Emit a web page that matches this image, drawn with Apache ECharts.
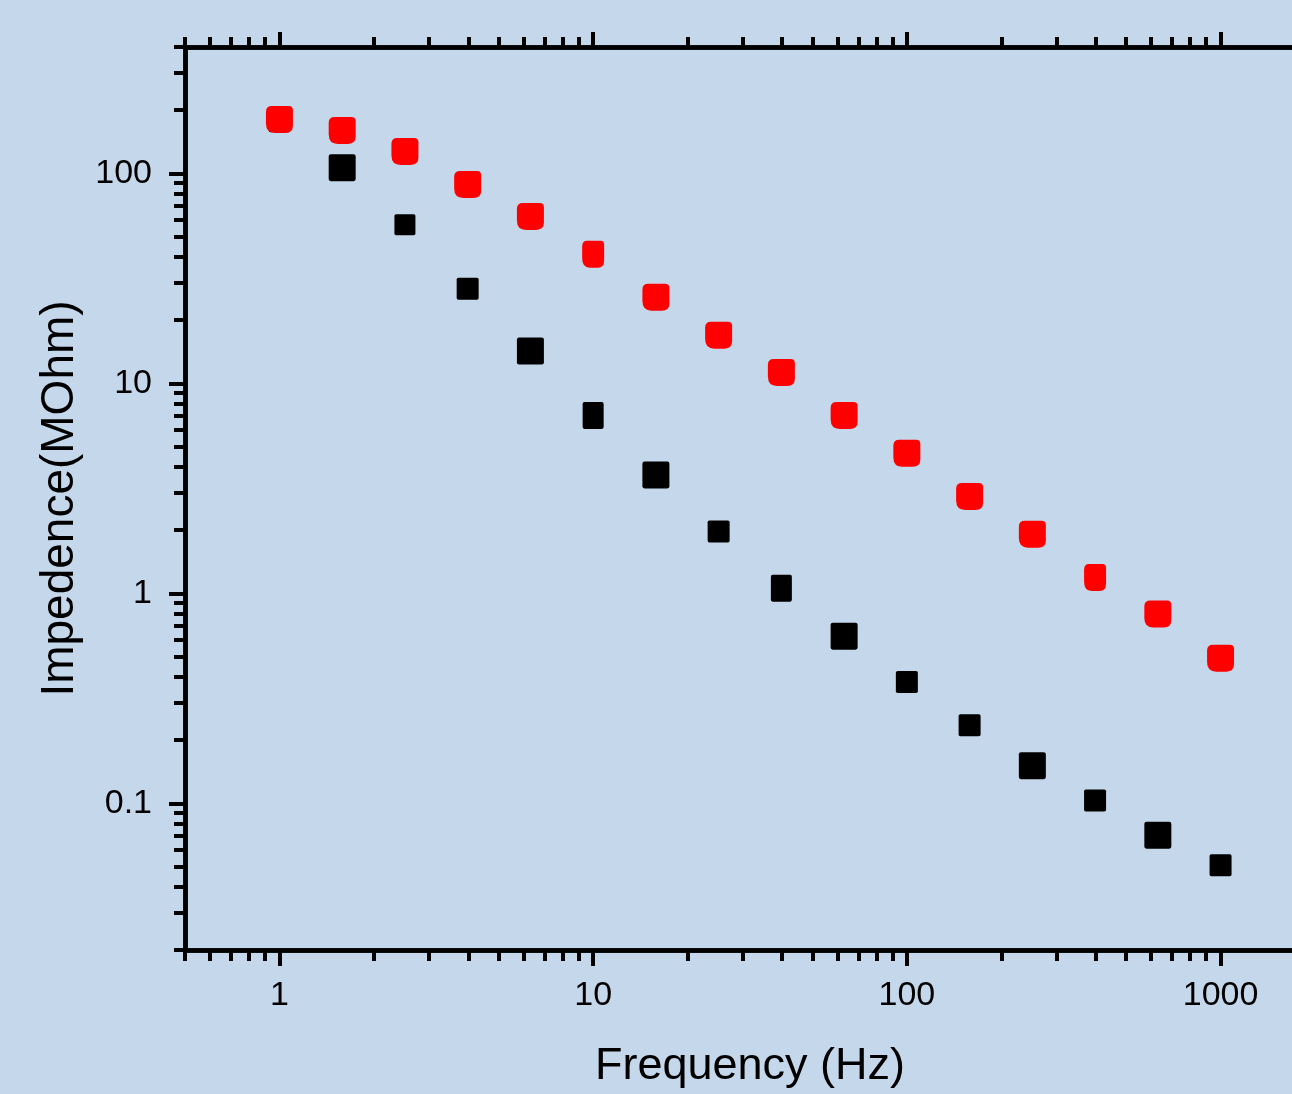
<!DOCTYPE html>
<html>
<head>
<meta charset="utf-8">
<script src="https://cdn.jsdelivr.net/npm/echarts@6/dist/echarts.min.js"></script>
<style>
  html, body { margin: 0; padding: 0; background: #c5d8eb; overflow: hidden; width: 1292px; height: 1094px; }
  #chart { width: 1315px; height: 1094px; }
</style>
</head>
<body>
<div id="chart"></div>
<script>
// ---- data ----
const frequencies = [1, 1.585, 2.512, 3.981, 6.31, 10, 15.85, 25.12, 39.81, 63.1, 100, 158.5, 251.2, 398.1, 631, 1000];
const impedanceBlack = [176, 106.4, 57.0, 28.2, 14.24, 7.03, 3.66, 1.97, 1.057, 0.625, 0.378, 0.235, 0.151, 0.103, 0.0704, 0.0507];
const impedanceRed = [180.6, 160.2, 127.3, 88.6, 62.4, 41.2, 25.7, 16.97, 11.26, 7.03, 4.64, 2.89, 1.91, 1.19, 0.796, 0.491];
const xMajorTicks = [1, 10, 100, 1000];
const xMinorTicks = [0.5, 0.6, 0.7, 0.8, 0.9, 2, 3, 4, 5, 6, 7, 8, 9, 20, 30, 40, 50, 60, 70, 80, 90, 200, 300, 400, 500, 600, 700, 800, 900, 2000];
const yMajorTicks = [0.1, 1, 10, 100];
const yMinorTicks = [0.02, 0.03, 0.04, 0.05, 0.06, 0.07, 0.08, 0.09, 0.2, 0.3, 0.4, 0.5, 0.6, 0.7, 0.8, 0.9, 2, 3, 4, 5, 6, 7, 8, 9, 20, 30, 40, 50, 60, 70, 80, 90, 200, 300, 400];

// ---- styling (marker sizes, not data) ----
const blackSizes = [21, 27, 21, 22, 27, [21, 27], 27, 22, [21, 27], 27, 22, 22, 27, 22, 27, 22];
const redSizes = [27, 27, 27, 27, 27, [22, 27], 27, 27, 27, 27, 27, 27, 27, [22, 27], 27, 27];

const blackPath = 'path://M8,0 H92 Q100,0 100,8 V92 Q100,100 92,100 H8 Q0,100 0,92 V8 Q0,0 8,0 Z';
const redPath = 'path://M22,0 H84 Q100,0 100,16 V72 Q100,100 72,100 H34 Q0,100 0,64 V22 Q0,0 22,0 Z';

const FONT = '"Liberation Sans", Arial, sans-serif';
const fmt = v => String(+Number(v).toPrecision(6));

function xAxisDef(position, ticks, len, withLabel, extra) {
  return Object.assign({
    type: 'log', logBase: 10, position: position, min: 0.5, max: 2000,
    axisLine: { show: true, lineStyle: { color: '#000', width: 4.5 } },
    axisTick: { show: true, inside: false, length: len, customValues: ticks, lineStyle: { color: '#000', width: 4 } },
    axisLabel: withLabel ? { show: true, customValues: ticks, formatter: fmt, margin: 29, fontSize: 34, color: '#000', fontFamily: FONT } : { show: false },
    splitLine: { show: false }, minorTick: { show: false }, minorSplitLine: { show: false }
  }, extra || {});
}
function yAxisDef(position, ticks, len, withLabel, extra) {
  return Object.assign({
    type: 'log', logBase: 10, position: position, min: 0.02, max: 400,
    axisLine: { show: true, lineStyle: { color: '#000', width: 4.5 } },
    axisTick: { show: true, inside: false, length: len, customValues: ticks, lineStyle: { color: '#000', width: 4 } },
    axisLabel: withLabel ? { show: true, customValues: ticks, formatter: fmt, margin: 33, fontSize: 34, color: '#000', fontFamily: FONT } : { show: false },
    splitLine: { show: false }, minorTick: { show: false }, minorSplitLine: { show: false }
  }, extra || {});
}

const chart = echarts.init(document.getElementById('chart'), null, { renderer: 'canvas', width: 1315, height: 1094 });
chart.setOption({
  backgroundColor: '#c5d8eb',
  animation: false,
  grid: { left: 185, right: 0, top: 47, bottom: 142.5, containLabel: false },
  xAxis: [
    xAxisDef('bottom', xMajorTicks, 16, true, {
      name: 'Frequency (Hz)', nameLocation: 'middle', nameGap: 94,
      nameTextStyle: { fontSize: 45, color: '#000', fontFamily: FONT }
    }),
    xAxisDef('bottom', xMinorTicks, 11, false),
    xAxisDef('top', xMajorTicks, 15, false),
    xAxisDef('top', xMinorTicks, 10, false)
  ],
  yAxis: [
    yAxisDef('left', yMajorTicks, 16, true, {
      name: 'Impedence(MOhm)', nameLocation: 'middle', nameGap: 102, nameRotate: 90,
      nameTextStyle: { fontSize: 46, color: '#000', fontFamily: FONT }
    }),
    yAxisDef('left', yMinorTicks, 11, false)
  ],
  series: [
    {
      type: 'scatter', xAxisIndex: 0, yAxisIndex: 0,
      data: frequencies.map((f, i) => [f, impedanceBlack[i]]),
      symbol: blackPath,
      symbolSize: (v, p) => blackSizes[p.dataIndex],
      itemStyle: { color: '#000', opacity: 1 },
      z: 2
    },
    {
      type: 'scatter', xAxisIndex: 0, yAxisIndex: 0,
      data: frequencies.map((f, i) => [f, impedanceRed[i]]),
      symbol: redPath,
      symbolSize: (v, p) => redSizes[p.dataIndex],
      itemStyle: { color: '#ff0000', opacity: 1 },
      z: 3
    }
  ]
});
</script>
</body>
</html>
